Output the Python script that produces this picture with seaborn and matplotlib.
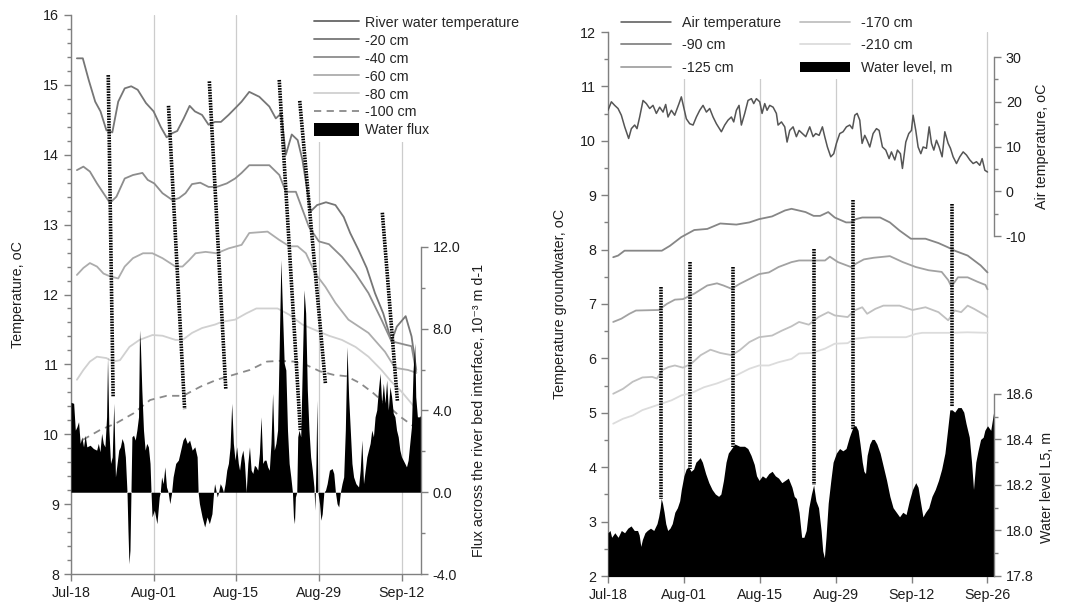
import matplotlib
matplotlib.use('Agg')
import pandas as pd
import seaborn as sns
import matplotlib.pyplot as plt
from matplotlib.lines import Line2D
from matplotlib.ticker import MultipleLocator, FormatStrFormatter

# ---------------- left panel (x = days after Jul-18) ----------------
t20_day = [1.0, 2.0, 3.0, 4.1, 5.0, 6.0, 7.0, 8.0, 9.1, 10.2, 11.3, 12.7, 14.0, 15.2, 16.2, 17.2, 18.0, 19.1, 20.1, 21.0,
           22.2, 23.3, 24.4, 25.4, 26.7, 28.1, 28.9, 30.2, 31.9, 33.6, 34.7, 35.6, 36.4, 37.4, 38.4, 39.2, 40.6, 41.7, 43.2, 44.8,
           46.2, 47.3, 48.7, 50.1, 51.5, 52.9, 54.3, 55.2, 56.7, 57.7, 58.5]
t20 = [15.38, 15.38, 15.07, 14.76, 14.62, 14.35, 14.32, 14.76, 14.95, 14.98, 14.93, 14.74, 14.62, 14.40, 14.25, 14.31, 14.34, 14.52, 14.70, 14.62,
       14.57, 14.43, 14.47, 14.47, 14.57, 14.69, 14.76, 14.90, 14.83, 14.69, 14.52, 14.59, 14.00, 14.29, 14.21, 13.93, 13.19, 13.28, 13.32, 13.28,
       13.11, 12.88, 12.64, 12.38, 12.02, 11.73, 11.33, 11.54, 11.69, 11.40, 10.92]

t40_day = [1.0, 2.1, 3.2, 4.4, 5.5, 6.6, 7.7, 9.1, 10.5, 12.1, 13.0, 14.1, 15.5, 17.2, 18.3, 19.4, 20.5, 21.9, 23.3, 24.7,
           26.4, 27.8, 28.9, 30.2, 33.6, 35.3, 36.4, 38.1, 40.3, 42.0, 43.7, 45.9, 48.2, 50.4, 52.6, 54.3, 56.7, 57.7, 58.5]
t40 = [13.78, 13.83, 13.76, 13.59, 13.45, 13.31, 13.40, 13.66, 13.71, 13.74, 13.64, 13.59, 13.45, 13.35, 13.38, 13.45, 13.58, 13.60, 13.54, 13.54,
       13.59, 13.66, 13.74, 13.85, 13.85, 13.71, 13.47, 13.47, 12.97, 12.76, 12.72, 12.54, 12.30, 12.02, 11.64, 11.33, 11.28, 11.26, 10.88]

t60_day = [1.0, 2.1, 3.2, 4.4, 5.5, 6.6, 8.0, 9.1, 10.5, 12.2, 13.8, 15.5, 17.7, 18.9, 20.0, 21.1, 22.8, 24.7, 26.7, 28.9,
           30.2, 33.3, 35.3, 37.0, 38.4, 39.8, 41.4, 43.1, 44.8, 47.0, 50.4, 53.2, 54.9, 57.1, 58.5]
t60 = [12.28, 12.38, 12.45, 12.40, 12.30, 12.26, 12.23, 12.40, 12.52, 12.59, 12.59, 12.52, 12.40, 12.40, 12.49, 12.59, 12.61, 12.59, 12.66, 12.71,
       12.88, 12.90, 12.78, 12.69, 12.69, 12.59, 12.30, 12.11, 11.88, 11.64, 11.45, 11.18, 10.95, 10.92, 10.88]

t80_day = [1.0, 2.1, 3.2, 4.4, 6.0, 7.1, 8.3, 9.9, 11.6, 13.8, 15.5, 17.7, 18.9, 20.5, 22.2, 24.4, 25.6, 27.8, 29.7, 31.4,
           35.0, 37.0, 39.2, 41.4, 43.7, 45.9, 48.2, 50.4, 52.6, 54.3, 56.0, 57.7, 58.5]
t80 = [10.78, 10.92, 11.04, 11.11, 11.09, 11.04, 11.06, 11.25, 11.35, 11.42, 11.41, 11.35, 11.35, 11.45, 11.52, 11.57, 11.61, 11.64, 11.73, 11.80,
       11.80, 11.71, 11.57, 11.49, 11.41, 11.35, 11.25, 11.11, 10.92, 10.75, 10.61, 10.44, 10.35]

t100_day = [2.0, 4.9, 7.7, 10.6, 13.4, 16.2, 19.0, 21.9, 24.7, 27.5, 30.3, 33.2, 35.4, 37.7, 39.9, 42.2, 44.5, 46.7, 49.0, 51.2,
            53.5, 55.8, 58.6]
t100 = [9.92, 10.06, 10.16, 10.30, 10.49, 10.55, 10.55, 10.68, 10.78, 10.85, 10.92, 11.04, 11.05, 11.04, 10.99, 10.90, 10.85, 10.83, 10.73, 10.59,
        10.42, 10.25, 10.08]

flux_day = [0.0, 0.45, 0.73, 1.0, 1.28, 1.56, 1.84, 2.12, 2.40, 2.68, 3.24, 3.79, 4.35, 4.63, 4.91, 5.19, 5.47, 5.75, 6.03, 6.19,
            6.42, 6.70, 6.98, 7.25, 7.53, 7.81, 8.09, 8.37, 8.65, 8.93, 9.21, 9.49, 9.65, 9.82, 9.99, 10.16, 10.32, 10.60, 10.88, 11.16,
            11.44, 11.61, 11.77, 12.0, 12.28, 12.56, 12.83, 13.11, 13.39, 13.56, 13.73, 14.12, 14.56, 14.95, 15.12, 15.35, 15.62, 15.90, 16.18, 16.46,
            16.74, 17.02, 17.30, 17.74, 18.19, 18.58, 18.97, 19.31, 19.70, 20.09, 20.53, 20.98, 21.37, 21.54, 21.76, 22.21, 22.65, 23.05, 23.44, 23.88,
            24.16, 24.33, 24.55, 24.78, 25.0, 25.28, 25.56, 25.84, 26.11, 26.39, 26.67, 26.95, 27.23, 27.51, 27.79, 28.07, 28.35, 28.56, 28.84, 29.12,
            29.4, 29.68, 29.96, 30.24, 30.52, 30.8, 31.08, 31.36, 31.64, 31.92, 32.2, 32.48, 32.76, 33.04, 33.32, 33.6, 33.88, 34.16, 34.44, 34.72,
            35.0, 35.28, 35.56, 35.84, 36.12, 36.4, 36.68, 36.96, 37.24, 37.52, 37.69, 37.86, 38.02, 38.25, 38.42, 38.64, 38.92, 39.2, 39.48, 39.76,
            40.04, 40.32, 40.6, 40.88, 41.16, 41.33, 41.5, 41.66, 41.83, 42.11, 42.34, 42.56, 42.84, 43.12, 43.4, 43.79, 44.24, 44.52, 44.8, 45.08,
            45.36, 45.64, 45.92, 46.2, 46.48, 46.76, 47.04, 47.32, 47.6, 47.88, 48.27, 48.72, 49.0, 49.28, 49.56, 49.84, 50.12, 50.4, 50.68, 50.96,
            51.24, 51.52, 51.8, 52.08, 52.36, 52.64, 52.92, 53.2, 53.48, 53.76, 54.04, 54.32, 54.6, 54.88, 55.16, 55.44, 55.72, 56.0, 56.28, 56.56,
            56.84, 57.12, 57.4, 57.68, 57.96, 58.24, 58.41, 58.69, 59.08, 59.3]
flux = [4.4, 4.35, 3.04, 3.2, 3.45, 2.39, 2.71, 2.22, 2.79, 2.22, 2.3, 2.14, 2.06, 2.39, 1.98, 2.88, 2.39, 2.22, 3.69, 6.63,
        3.04, 1.41, 1.73, 4.35, 0.75, 1.41, 2.06, 2.22, 2.63, 2.39, 1.73, 0.0, -1.86, -3.5, -2.84, 0.0, 2.71, 2.79, 2.55, 3.04,
        3.69, 7.94, 7.12, 5.0, 3.04, 2.06, 2.39, 2.22, 1.41, 0.0, -1.21, -0.88, -1.54, -0.23, 0.0, 0.75, 0.42, 1.24, 0.26, 0.0,
        -0.56, -0.07, 0.75, 1.41, 1.57, 2.06, 2.55, 2.71, 2.39, 2.55, 2.06, 2.22, 1.73, 0.0, -0.56, -1.21, -1.7, -1.21, -1.54, -1.05,
        0.0, 0.42, 0.1, -0.23, 0.0, 0.42, 0.26, 0.0, 0.42, 1.08, 1.41, 2.22, 4.35, 2.39, 1.57, 2.22, 1.41, 1.08, 1.73, 2.06,
        1.41, 0.0, 1.41, 2.22, 1.08, 0.92, 1.32, 1.24, 1.08, 1.9, 3.69, 1.41, 1.57, 1.57, 1.24, 1.08, 2.39, 4.84, 2.06, 2.39,
        3.04, 7.12, 11.37, 8.76, 6.31, 5.98, 3.04, 1.41, 0.75, 0.0, -1.21, -1.54, -0.23, 0.0, 2.71, 3.04, 2.71, 6.31, 9.9, 8.76,
        5.0, 3.04, 1.73, 1.08, 0.26, -0.88, 1.41, 4.51, 0.0, -0.56, -1.37, -1.05, 0.0, 0.1, 0.42, 1.08, 1.16, 0.92, 0.0, -0.56,
        -0.72, 0.0, 0.42, 0.75, 3.04, 7.12, 4.67, 3.04, 1.41, 0.75, 0.42, 0.26, 1.08, 2.55, 0.42, 1.08, 1.73, 2.06, 2.39, 3.04,
        2.71, 3.69, 4.02, 5.0, 5.82, 4.35, 5.33, 4.35, 5.49, 4.02, 5.16, 4.67, 3.86, 3.69, 3.04, 2.71, 2.06, 1.73, 1.57, 1.41,
        1.24, 1.57, 2.39, 3.2, 5.98, 7.29, 4.67, 3.69, 3.69, 3.8]

# slanted dotted marks: (day, temp) start -> end
lmark_d0 = [6.31, 16.52, 23.44, 35.28, 38.75, 52.75]
lmark_t0 = [15.14, 14.70, 15.05, 15.07, 14.77, 13.17]
lmark_d1 = [7.14, 19.25, 26.23, 38.85, 43.10, 55.30]
lmark_t1 = [10.54, 10.36, 10.64, 10.06, 10.73, 10.48]

# ---------------- right panel ----------------
air_day = [0, 0.62, 1.23, 1.85, 2.46, 3.08, 3.81, 4.31, 4.92, 5.35, 5.84, 6.46, 7.07, 7.69, 8.30, 8.92, 9.53, 10.15, 10.64, 11.07,
           11.69, 12.30, 13.10, 13.53, 14.45, 15.07, 15.69, 16.30, 16.92, 17.53, 18.15, 18.76, 19.38, 19.99, 20.91, 21.53, 22.14, 22.76, 23.19, 23.68,
           24.17, 24.60, 25.22, 25.83, 26.45, 26.88, 27.37, 27.99, 28.42, 28.91, 29.34, 29.83, 30.45, 31.06, 31.37, 31.99, 32.60, 33.03, 33.52, 34.14,
           34.75, 35.25, 35.86, 36.48, 37.21, 37.83, 38.32, 38.94, 39.55, 39.98, 40.47, 41.09, 41.64, 42.13, 42.75, 43.36, 43.98, 44.59, 45.09, 45.52,
           45.95, 46.44, 46.87, 47.36, 47.79, 48.29, 48.90, 49.52, 50.01, 50.62, 51.24, 51.85, 52.28, 52.90, 53.39, 53.94, 54.31, 54.93, 55.48, 55.97,
           56.28, 56.77, 57.20, 57.70, 58.13, 58.74, 59.24, 59.67, 60.10, 60.59, 61.08, 61.63, 62.13, 62.74, 63.17, 63.66, 64.28, 64.89, 65.51, 66.12,
           66.74, 67.35, 67.97, 68.58, 69.01, 69.51, 70.0]
air_t = [18.1, 20.0, 19.2, 18.5, 17.0, 14.4, 11.8, 14.0, 14.8, 14.0, 16.6, 20.3, 19.6, 18.5, 19.2, 17.4, 18.8, 17.7, 19.4, 16.6,
         18.1, 17.0, 19.6, 21.1, 16.2, 15.1, 14.8, 16.6, 18.1, 19.2, 17.7, 18.5, 16.6, 15.1, 13.3, 14.8, 15.9, 16.6, 15.5, 18.1,
         19.2, 14.8, 17.4, 20.3, 20.7, 19.6, 20.7, 20.0, 17.4, 19.6, 18.1, 19.2, 18.8, 17.4, 14.8, 15.5, 14.4, 11.0, 13.6, 14.4,
         12.2, 13.6, 12.9, 12.2, 14.4, 12.2, 12.9, 12.5, 14.4, 12.2, 9.9, 7.7, 8.4, 10.7, 12.9, 13.3, 14.4, 14.8, 14.0, 17.0,
         17.4, 15.9, 10.7, 12.5, 11.4, 9.9, 12.9, 14.0, 13.6, 9.9, 9.2, 7.3, 8.8, 7.0, 9.2, 8.4, 5.1, 11.0, 12.9, 13.6,
         17.0, 13.6, 9.9, 8.4, 9.9, 9.6, 14.4, 10.7, 9.2, 11.4, 9.9, 7.7, 13.3, 10.7, 9.6, 7.7, 6.2, 7.7, 8.8, 8.1,
         7.0, 6.2, 6.6, 5.8, 7.3, 4.7, 4.3]

gw90_day = [0.96, 1.86, 3.05, 9.93, 11.43, 13.52, 15.91, 18.31, 20.70, 23.69, 26.08, 27.87, 30.27, 32.66, 33.85, 36.44, 37.93, 39.13, 40.62, 41.82,
            43.91, 44.81, 45.71, 46.90, 50.19, 51.99, 53.78, 55.87, 58.56, 60.96, 62.75, 63.95, 66.34, 68.73, 70.0]
gw90 = [7.86, 7.89, 7.98, 7.98, 8.07, 8.23, 8.36, 8.38, 8.48, 8.46, 8.50, 8.56, 8.61, 8.72, 8.75, 8.69, 8.62, 8.62, 8.69, 8.59,
        8.50, 8.50, 8.56, 8.59, 8.59, 8.50, 8.35, 8.20, 8.20, 8.12, 8.04, 7.98, 7.89, 7.71, 7.58]

gw125_day = [0.96, 2.46, 3.95, 5.15, 9.34, 10.83, 12.33, 13.82, 15.91, 18.31, 20.10, 21.30, 22.79, 24.29, 26.08, 27.87, 29.67, 31.46, 33.85, 35.24,
             37.63, 40.03, 40.92, 42.42, 44.81, 45.71, 47.20, 49.0, 51.99, 54.38, 56.77, 59.16, 61.55, 62.75, 63.35, 64.54, 66.34, 68.13, 69.63, 70.0]
gw125 = [6.67, 6.73, 6.82, 6.88, 6.89, 7.0, 7.08, 7.09, 7.19, 7.34, 7.38, 7.34, 7.28, 7.37, 7.46, 7.55, 7.58, 7.68, 7.77, 7.80,
         7.80, 7.80, 7.87, 7.77, 7.68, 7.74, 7.82, 7.85, 7.88, 7.77, 7.68, 7.62, 7.59, 7.44, 7.32, 7.49, 7.49, 7.41, 7.35, 7.27]

gw170_day = [0.96, 2.76, 4.55, 6.35, 8.14, 9.04, 9.93, 11.13, 12.33, 13.82, 15.32, 17.11, 18.90, 20.70, 22.79, 24.29, 26.08, 27.87, 30.27, 32.06,
             33.85, 35.24, 37.04, 38.83, 40.62, 41.82, 44.21, 45.41, 46.90, 47.80, 49.30, 50.79, 53.78, 56.17, 58.56, 60.96, 62.75, 63.95, 65.14, 66.34,
             67.54, 69.63, 70.0]
gw170 = [5.35, 5.44, 5.57, 5.65, 5.66, 5.63, 5.78, 5.84, 5.87, 5.83, 5.90, 6.06, 6.16, 6.10, 6.06, 6.15, 6.30, 6.39, 6.42, 6.51,
         6.59, 6.67, 6.62, 6.76, 6.85, 6.79, 6.76, 6.88, 6.94, 6.82, 6.91, 6.97, 6.97, 6.89, 6.94, 6.85, 6.70, 6.88, 6.85, 6.97,
         6.91, 6.79, 6.76]

gw210_day = [0.96, 2.76, 4.55, 6.35, 8.14, 9.93, 11.73, 13.52, 15.32, 17.71, 20.10, 22.49, 24.29, 26.08, 27.87, 29.67, 31.46, 33.85, 35.24, 37.63,
             40.03, 41.82, 44.21, 45.41, 48.40, 50.79, 54.98, 56.77, 57.96, 62.75, 66.34, 70.0]
gw210 = [4.80, 4.89, 4.95, 5.05, 5.11, 5.17, 5.23, 5.32, 5.36, 5.47, 5.54, 5.63, 5.72, 5.81, 5.87, 5.87, 5.93, 5.99, 6.09, 6.10,
         6.18, 6.27, 6.28, 6.36, 6.39, 6.39, 6.39, 6.45, 6.47, 6.47, 6.48, 6.47]

wl_day = [0.0, 0.37, 0.67, 1.26, 1.86, 2.46, 3.06, 3.65, 4.25, 4.85, 5.45, 5.75, 6.05, 6.34, 6.82, 7.24, 7.84, 8.44, 9.04, 9.34,
          9.63, 9.81, 10.05, 10.35, 10.65, 11.01, 11.43, 11.85, 12.33, 12.80, 13.22, 13.52, 14.0, 14.42, 14.84, 15.32, 15.79, 16.21, 16.63, 16.99,
          17.41, 18.01, 18.60, 19.20, 19.80, 20.40, 20.82, 21.30, 21.77, 22.19, 22.79, 23.39, 24.29, 25.18, 25.78, 26.38, 26.98, 27.40, 27.87, 28.47,
          29.07, 29.67, 30.27, 30.86, 31.46, 32.06, 32.66, 33.26,
          33.93, 34.35, 34.76, 35.24, 35.72, 36.14, 36.56, 37.04, 37.52, 37.93, 38.35, 38.83, 39.31, 39.61, 39.91, 40.21, 40.62, 41.10, 41.52, 42.12,
          42.72, 43.32, 43.91, 44.51, 44.81, 45.29, 45.71, 46.13, 46.49, 46.90, 47.20, 47.50, 47.80, 48.28, 48.70, 49.12, 49.59, 50.19, 50.79, 51.39,
          51.99, 52.58, 53.18, 53.78, 54.38, 54.98, 55.57, 56.17, 56.77, 57.19, 57.67, 58.09, 58.56, 59.16, 59.76, 60.36, 60.96, 61.55, 62.15, 62.63,
          63.05, 63.47, 63.95, 64.54, 65.14, 65.62, 66.04, 66.64, 67.06, 67.42, 67.84, 68.25, 68.73, 69.21, 69.51, 70.0, 70.6, 71.2]
wl = [17.99, 18.00, 17.97, 17.99, 17.97, 18.00, 17.99, 18.01, 18.02, 18.00, 18.00, 17.98, 17.93, 17.96, 17.99, 18.00, 18.01, 18.00, 18.03, 18.06,
      18.10, 18.14, 18.12, 18.08, 18.03, 18.00, 18.01, 18.03, 18.08, 18.10, 18.13, 18.18, 18.24, 18.27, 18.28, 18.26, 18.27, 18.30, 18.31, 18.32,
      18.30, 18.25, 18.21, 18.18, 18.16, 18.15, 18.16, 18.22, 18.30, 18.34, 18.36, 18.38, 18.37, 18.37, 18.36, 18.33, 18.29, 18.24, 18.22, 18.24,
      18.23, 18.25, 18.26, 18.24, 18.23, 18.21, 18.22, 18.23,
      18.19, 18.15, 18.14, 18.08, 17.97, 17.97, 18.00, 18.10, 18.16, 18.20, 18.13, 18.10, 18.00, 17.91, 17.88, 17.97, 18.12, 18.22, 18.30, 18.34,
      18.36, 18.35, 18.36, 18.41, 18.43, 18.46, 18.46, 18.44, 18.38, 18.30, 18.26, 18.25, 18.33, 18.38, 18.40, 18.40, 18.38, 18.34, 18.28, 18.22,
      18.15, 18.10, 18.08, 18.06, 18.08, 18.07, 18.13, 18.18, 18.21, 18.19, 18.12, 18.06, 18.08, 18.10, 18.15, 18.18, 18.22, 18.27, 18.34, 18.44,
      18.53, 18.53, 18.52, 18.54, 18.54, 18.52, 18.47, 18.41, 18.30, 18.18, 18.30, 18.35, 18.40, 18.41, 18.44, 18.46, 18.44, 18.53]

# vertical dotted marks: day, top temp, bottom temp (groundwater axis units)
rmark_day = [9.81, 15.14, 23.09, 38.05, 45.11, 63.47]
rmark_top = [7.32, 7.77, 7.68, 8.01, 8.92, 8.84]
rmark_bot = [3.42, 3.97, 4.37, 3.67, 4.68, 5.11]

date_labels = list(pd.date_range('2013-07-18', periods=6, freq='14D').strftime('%b-%d'))

sns.set_theme(style='white')
plt.rcParams['font.family'] = ['Liberation Sans', 'DejaVu Sans']
plt.rcParams['axes.unicode_minus'] = False
FS = 10.3
GRAY = '#808080'
DOT = dict(color='black', lw=2.6, linestyle=(0, (0.45, 0.3)), solid_capstyle='butt', dash_capstyle='butt')

fig = plt.figure(figsize=(10.69, 6.13), dpi=100)
axL = fig.add_axes([71 / 1069, 39 / 613, 350 / 1069, 559 / 613])
axF = axL.twinx()
axR = fig.add_axes([608 / 1069, 37 / 613, 386 / 1069, 544 / 613])
axA = axR.twinx()
axW = axR.twinx()

# ---- left ----
lw = 1.3
sns.lineplot(x=t20_day, y=t20, ax=axL, color='#767676', lw=lw, label='-20 cm', legend=False)
sns.lineplot(x=t40_day, y=t40, ax=axL, color='#8c8c8c', lw=lw, label='-40 cm', legend=False)
sns.lineplot(x=t60_day, y=t60, ax=axL, color='#acacac', lw=lw, label='-60 cm', legend=False)
sns.lineplot(x=t80_day, y=t80, ax=axL, color='#d0d0d0', lw=lw, label='-80 cm', legend=False)
sns.lineplot(x=t100_day, y=t100, ax=axL, color='#8a8a8a', lw=lw, linestyle=(0, (4, 3)), label='-100 cm', legend=False)
axF.fill_between(flux_day, flux, 0, color='black', lw=0, label='Water flux')
for d0, y0, d1, y1 in zip(lmark_d0, lmark_t0, lmark_d1, lmark_t1):
    axF.plot([d0, d1], [y0, y1], transform=axL.transData, **DOT)

axL.set_xlim(0, 59.3)
axL.set_ylim(8, 16)
axF.set_ylim(-4, 23.35)
axL.set_xticks([0, 14, 28, 42, 56])
axL.set_xticklabels(date_labels[:5])
axL.xaxis.set_minor_locator(MultipleLocator(3.5))
axL.yaxis.set_major_locator(MultipleLocator(1))
axL.yaxis.set_minor_locator(MultipleLocator(0.2))
axL.yaxis.set_major_formatter(FormatStrFormatter('%d'))
axF.set_yticks([-4, 0, 4, 8, 12])
axF.set_yticks([-2, 2, 6, 10], minor=True)
axF.yaxis.set_major_formatter(FormatStrFormatter('%.1f'))
axL.set_ylabel('Temperature, oC', fontsize=FS)
axL.yaxis.set_label_coords(-0.13, 0.5)
axF.set_ylabel('Flux across the river bed interface, 10\u207b\u00b3 m d-1', fontsize=FS)
axF.yaxis.set_label_coords(1.145, 0.293)

# ---- right ----
sns.lineplot(x=air_day, y=air_t, ax=axA, color='#555555', lw=1.1, label='Air temperature', legend=False)
sns.lineplot(x=gw90_day, y=gw90, ax=axR, color='#868686', lw=lw, label='-90 cm', legend=False)
sns.lineplot(x=gw125_day, y=gw125, ax=axR, color='#a2a2a2', lw=lw, label='-125 cm', legend=False)
sns.lineplot(x=gw170_day, y=gw170, ax=axR, color='#c0c0c0', lw=lw, label='-170 cm', legend=False)
sns.lineplot(x=gw210_day, y=gw210, ax=axR, color='#dcdcdc', lw=lw, label='-210 cm', legend=False)
axW.fill_between(wl_day, wl, 17.0, color='black', lw=0, label='Water level, m')
for d, top, bot in zip(rmark_day, rmark_top, rmark_bot):
    axW.plot([d, d], [top, bot], transform=axR.transData, **DOT)

axR.set_xlim(0, 71.2)
axR.set_ylim(2, 12)
axA.set_ylim(-86.0, 35.6)
axW.set_ylim(17.8, 20.19)
axR.set_xticks([0, 14, 28, 42, 56, 70])
axR.set_xticklabels(date_labels)
axR.xaxis.set_minor_locator(MultipleLocator(3.5))
axR.yaxis.set_major_locator(MultipleLocator(1))
axR.yaxis.set_minor_locator(MultipleLocator(0.5))
axR.yaxis.set_major_formatter(FormatStrFormatter('%d'))
axA.set_yticks([-10, 0, 10, 20, 30])
axA.set_yticks([-5, 5, 15, 25], minor=True)
axA.yaxis.set_major_formatter(FormatStrFormatter('%d'))
axW.set_yticks([17.8, 18.0, 18.2, 18.4, 18.6])
axW.set_yticks([17.9, 18.1, 18.3, 18.5], minor=True)
axW.yaxis.set_major_formatter(FormatStrFormatter('%.1f'))
axR.set_ylabel('Temperature groundwater, oC', fontsize=FS)
axR.yaxis.set_label_coords(-0.105, 0.5)
axA.set_ylabel('Air temperature, oC', fontsize=FS)
axA.yaxis.set_label_coords(1.105, 0.789)
axW.set_ylabel('Water level L5, m', fontsize=FS)
axW.yaxis.set_label_coords(1.118, 0.162)

# ---- styling shared ----
for ax in (axL, axR):
    ax.spines[['top', 'right']].set_visible(False)
    ax.xaxis.grid(True, color='#cccccc', lw=0.9)
    ax.tick_params(bottom=True, left=True)
    ax.tick_params(axis='x', which='both', length=5)
for ax in (axF, axA, axW):
    ax.spines[['top', 'left', 'bottom']].set_visible(False)
    ax.tick_params(axis='y', which='both', right=True, left=False, labelright=True, labelleft=False)
axF.spines['right'].set_bounds(-4, 12)
axA.spines['right'].set_bounds(-10, 30)
axW.spines['right'].set_bounds(17.8, 18.6)
for ax in (axL, axF, axR, axA, axW):
    for s in ax.spines.values():
        s.set_color(GRAY)
        s.set_linewidth(1.0)
    ax.tick_params(which='both', direction='out', color=GRAY, width=1.0, labelcolor='#1e1e1e', labelsize=FS)
    ax.tick_params(axis='y', which='major', length=5)
    ax.tick_params(axis='y', which='minor', length=3)
    ax.set_xlabel('')
    ax.yaxis.label.set_color('#1e1e1e')

# ---- legends ----
hL, lL = axL.get_legend_handles_labels()
hF, lF = axF.get_legend_handles_labels()
river = Line2D([], [], color='#666666', lw=lw)
legL = axF.legend([river] + hL + hF, ['River water temperature'] + lL + lF, loc='upper left',
                  bbox_to_anchor=(310 / 1069, 1 - 11 / 613), bbox_transform=fig.transFigure, borderaxespad=0,
                  fontsize=FS, frameon=True, fancybox=False, framealpha=1, facecolor='white', edgecolor='white',
                  borderpad=0.3, handlelength=3.1, handletextpad=0.45, labelspacing=0.22, handleheight=1.1)
legL.get_frame().set_linewidth(0)

hA, lA = axA.get_legend_handles_labels()
hR, lR = axR.get_legend_handles_labels()
hW, lW = axW.get_legend_handles_labels()
legR = axW.legend(hA + hR + hW, lA + lR + lW, ncol=2, loc='upper left',
                  bbox_to_anchor=(617 / 1069, 1 - 12 / 613), bbox_transform=fig.transFigure, borderaxespad=0,
                  fontsize=FS, frameon=True, fancybox=False, framealpha=1, facecolor='white', edgecolor='white',
                  borderpad=0.3, handlelength=3.5, handletextpad=0.75, labelspacing=0.57, columnspacing=1.3)
legR.get_frame().set_linewidth(0)

fig.savefig('out.png', dpi=100)
